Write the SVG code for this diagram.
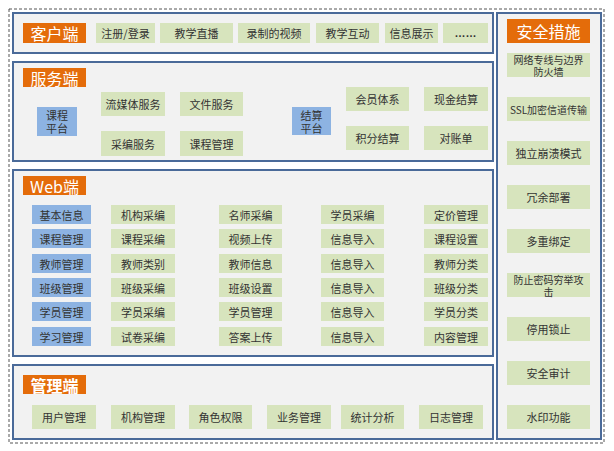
<svg xmlns="http://www.w3.org/2000/svg" width="614" height="451" viewBox="0 0 614 451">
<style>
.panel{fill:#f2f2f2;stroke:#4a6a99;stroke-width:2}
.ttl{fill:#e46c0a}
.tt{font-family:"Noto Sans CJK SC","Liberation Sans",sans-serif;font-size:16px;fill:#ffffff;text-anchor:middle;dominant-baseline:central}
.g{fill:#d7e4bd}
.b{fill:#8db3e2}
.t{font-family:"Noto Sans CJK SC","Liberation Sans",sans-serif;font-size:11px;fill:#333333;text-anchor:middle;dominant-baseline:central}
.s{font-size:10px}
</style>
<rect width="614" height="451" fill="#ffffff"/>
<rect x="9" y="9" width="595" height="434" fill="none" stroke="#555555" stroke-width="1" stroke-dasharray="3 2"/>

<g id="client">
<rect class="panel" x="13" y="13" width="480" height="40"/>
<rect class="ttl" x="23" y="23" width="63" height="20"/>
<text class="tt" x="54.500" y="33">客户端</text>
<rect class="g" x="96" y="23" width="59" height="20"/><text class="t" x="125.500" y="33">注册/登录</text>
<rect class="g" x="160" y="23" width="73" height="20"/><text class="t" x="196.500" y="33">教学直播</text>
<rect class="g" x="238" y="23" width="72" height="20"/><text class="t" x="274" y="33">录制的视频</text>
<rect class="g" x="316" y="23" width="63" height="20"/><text class="t" x="347.500" y="33">教学互动</text>
<rect class="g" x="385" y="23" width="53" height="20"/><text class="t" x="411.500" y="33">信息展示</text>
<rect class="g" x="443" y="23" width="45" height="20"/><text x="465.500" y="37" font-family="Liberation Sans, sans-serif" font-size="11" font-weight="bold" fill="#333333" text-anchor="middle">……</text>
</g>

<g id="server">
<rect class="panel" x="13" y="62" width="480" height="99"/>
<rect class="ttl" x="23" y="68" width="63" height="19"/>
<text class="tt" x="54.500" y="77.500">服务端</text>
<rect class="b" x="37" y="107" width="40" height="29"/>
<text class="t" x="57" y="115">课程<tspan x="57" dy="13">平台</tspan></text>
<rect class="g" x="101" y="92" width="64" height="24"/><text class="t" x="133" y="104">流媒体服务</text>
<rect class="g" x="180" y="92" width="63" height="24"/><text class="t" x="211.500" y="104">文件服务</text>
<rect class="g" x="101" y="131" width="64" height="25"/><text class="t" x="133" y="143.500">采编服务</text>
<rect class="g" x="180" y="131" width="63" height="25"/><text class="t" x="211.500" y="143.500">课程管理</text>
<rect class="b" x="292" y="107" width="39" height="28"/>
<text class="t" x="311.500" y="114.500">结算<tspan x="311.500" dy="13">平台</tspan></text>
<rect class="g" x="346" y="87" width="63" height="24"/><text class="t" x="377.500" y="99">会员体系</text>
<rect class="g" x="424" y="87" width="64" height="24"/><text class="t" x="456" y="99">现金结算</text>
<rect class="g" x="346" y="126" width="63" height="24"/><text class="t" x="377.500" y="138">积分结算</text>
<rect class="g" x="424" y="126" width="64" height="24"/><text class="t" x="456" y="138">对账单</text>
</g>

<g id="web">
<rect class="panel" x="13" y="170" width="480" height="186"/>
<rect class="ttl" x="23" y="176" width="63" height="19"/>
<text class="tt" x="54.500" y="185.500">Web端</text>
<rect class="b" x="32" y="205" width="59" height="19"/><text class="t" x="61.500" y="214.500">基本信息</text>
<rect class="b" x="32" y="229" width="59" height="19"/><text class="t" x="61.500" y="238.500">课程管理</text>
<rect class="b" x="32" y="254" width="59" height="19"/><text class="t" x="61.500" y="263.500">教师管理</text>
<rect class="b" x="32" y="278" width="59" height="19"/><text class="t" x="61.500" y="287.500">班级管理</text>
<rect class="b" x="32" y="302" width="59" height="19"/><text class="t" x="61.500" y="311.500">学员管理</text>
<rect class="b" x="32" y="327" width="59" height="19"/><text class="t" x="61.500" y="336.500">学习管理</text>

<rect class="g" x="111" y="205" width="64" height="19"/><text class="t" x="143" y="214.500">机构采编</text>
<rect class="g" x="111" y="229" width="64" height="19"/><text class="t" x="143" y="238.500">课程采编</text>
<rect class="g" x="111" y="254" width="64" height="19"/><text class="t" x="143" y="263.500">教师类别</text>
<rect class="g" x="111" y="278" width="64" height="19"/><text class="t" x="143" y="287.500">班级采编</text>
<rect class="g" x="111" y="302" width="64" height="19"/><text class="t" x="143" y="311.500">学员采编</text>
<rect class="g" x="111" y="327" width="64" height="19"/><text class="t" x="143" y="336.500">试卷采编</text>

<rect class="g" x="219" y="205" width="63" height="19"/><text class="t" x="250.500" y="214.500">名师采编</text>
<rect class="g" x="219" y="229" width="63" height="19"/><text class="t" x="250.500" y="238.500">视频上传</text>
<rect class="g" x="219" y="254" width="63" height="19"/><text class="t" x="250.500" y="263.500">教师信息</text>
<rect class="g" x="219" y="278" width="63" height="19"/><text class="t" x="250.500" y="287.500">班级设置</text>
<rect class="g" x="219" y="302" width="63" height="19"/><text class="t" x="250.500" y="311.500">学员管理</text>
<rect class="g" x="219" y="327" width="63" height="19"/><text class="t" x="250.500" y="336.500">答案上传</text>

<rect class="g" x="321" y="205" width="63" height="19"/><text class="t" x="352.500" y="214.500">学员采编</text>
<rect class="g" x="321" y="229" width="63" height="19"/><text class="t" x="352.500" y="238.500">信息导入</text>
<rect class="g" x="321" y="254" width="63" height="19"/><text class="t" x="352.500" y="263.500">信息导入</text>
<rect class="g" x="321" y="278" width="63" height="19"/><text class="t" x="352.500" y="287.500">信息导入</text>
<rect class="g" x="321" y="302" width="63" height="19"/><text class="t" x="352.500" y="311.500">信息导入</text>
<rect class="g" x="321" y="327" width="63" height="19"/><text class="t" x="352.500" y="336.500">信息导入</text>

<rect class="g" x="424" y="205" width="64" height="19"/><text class="t" x="456" y="214.500">定价管理</text>
<rect class="g" x="424" y="229" width="64" height="19"/><text class="t" x="456" y="238.500">课程设置</text>
<rect class="g" x="424" y="254" width="64" height="19"/><text class="t" x="456" y="263.500">教师分类</text>
<rect class="g" x="424" y="278" width="64" height="19"/><text class="t" x="456" y="287.500">班级分类</text>
<rect class="g" x="424" y="302" width="64" height="19"/><text class="t" x="456" y="311.500">学员分类</text>
<rect class="g" x="424" y="327" width="64" height="19"/><text class="t" x="456" y="336.500">内容管理</text>
</g>

<g id="admin">
<rect class="panel" x="13" y="365" width="480" height="74"/>
<rect class="ttl" x="23" y="375" width="63" height="19"/>
<text class="tt" x="54.500" y="384.500" font-weight="bold">管理端</text>
<rect class="g" x="32" y="405" width="64" height="24"/><text class="t" x="64" y="417">用户管理</text>
<rect class="g" x="111" y="405" width="64" height="24"/><text class="t" x="143" y="417">机构管理</text>
<rect class="g" x="189" y="405" width="63" height="24"/><text class="t" x="220.500" y="417">角色权限</text>
<rect class="g" x="267" y="405" width="64" height="24"/><text class="t" x="299" y="417">业务管理</text>
<rect class="g" x="341" y="405" width="63" height="24"/><text class="t" x="372.500" y="417">统计分析</text>
<rect class="g" x="419" y="405" width="64" height="24"/><text class="t" x="451" y="417">日志管理</text>
</g>

<g id="security">
<rect class="panel" x="497" y="13" width="104" height="426"/>
<rect class="ttl" x="507" y="19" width="83" height="24"/>
<text class="tt" x="548.500" y="31">安全措施</text>
<rect class="g" x="507" y="53" width="83" height="24"/>
<text class="t s" x="548.500" y="59.500">网络专线与边界<tspan x="548.500" dy="11">防火墙</tspan></text>
<rect class="g" x="507" y="97" width="83" height="24"/><text class="t s" x="548.500" y="109">SSL加密信道传输</text>
<rect class="g" x="507" y="141" width="83" height="24"/><text class="t" x="548.500" y="153">独立崩溃模式</text>
<rect class="g" x="507" y="185" width="83" height="24"/><text class="t" x="548.500" y="197">冗余部署</text>
<rect class="g" x="507" y="229" width="83" height="24"/><text class="t" x="548.500" y="241">多重绑定</text>
<rect class="g" x="507" y="273" width="83" height="24"/>
<text class="t s" x="548.500" y="279.500">防止密码穷举攻<tspan x="548.500" dy="11">击</tspan></text>
<rect class="g" x="507" y="317" width="83" height="24"/><text class="t" x="548.500" y="329">停用锁止</text>
<rect class="g" x="507" y="361" width="83" height="24"/><text class="t" x="548.500" y="373">安全审计</text>
<rect class="g" x="507" y="405" width="83" height="24"/><text class="t" x="548.500" y="417">水印功能</text>
</g>

<g id="connectors"></g>
</svg>
